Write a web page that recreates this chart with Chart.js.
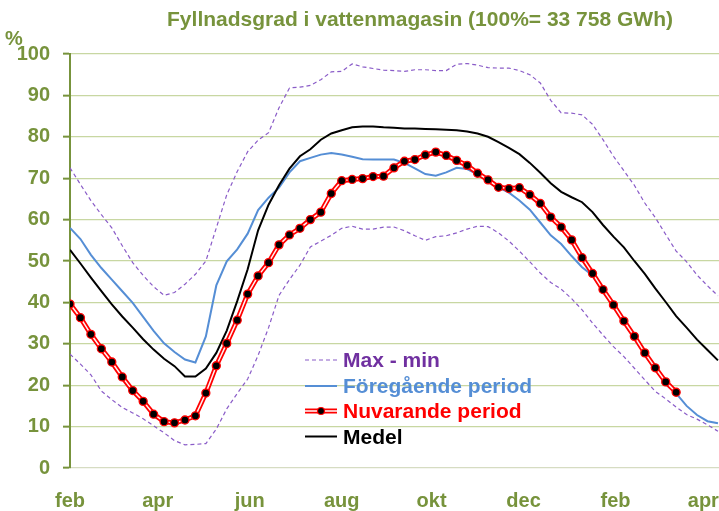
<!DOCTYPE html>
<html>
<head>
<meta charset="utf-8">
<script src="https://cdn.jsdelivr.net/npm/chart.js@4/dist/chart.umd.min.js"></script>
<style>
  html, body { margin: 0; padding: 0; background: #fff; }
  #wrap { width: 719px; height: 511px; }
</style>
</head>
<body>
<div id="wrap"><canvas id="myChart" width="719" height="511"></canvas></div>
<script>
// weekly fill level in %, week 0 = start of feb
const maxValues = [72.5, 68.5, 64.6, 61.2, 58.0, 53.7, 49.6, 46.5, 43.8, 41.7,
  42.4, 44.4, 46.8, 50.0, 58.0, 66.0, 71.6, 76.4, 79.2, 81.0,
  87.0, 91.8, 92.0, 92.4, 93.8, 95.7, 95.8, 97.6, 96.9, 96.5,
  96.1, 96.0, 95.8, 96.2, 96.2, 96.0, 96.0, 97.5, 97.7, 97.3,
  96.7, 96.6, 96.6, 96.0, 95.0, 93.0, 88.8, 85.8, 85.7, 85.3,
  83.0, 79.3, 75.3, 71.8, 68.3, 64.0, 60.5, 56.4, 52.4, 49.8,
  46.6, 44.0, 41.6];
const minValues = [27.5, 25.1, 22.5, 18.6, 16.5, 14.6, 13.3, 11.9, 10.2, 8.5,
  6.6, 5.6, 5.7, 5.9, 9.4, 14.3, 18.0, 21.5, 27.2, 33.9,
  41.7, 45.5, 49.0, 53.4, 54.8, 56.2, 57.9, 58.4, 57.7, 57.7,
  58.2, 58.2, 57.3, 56.1, 55.0, 55.9, 56.1, 56.8, 57.7, 58.4,
  58.3, 56.8, 54.8, 52.4, 49.8, 47.1, 44.8, 43.2, 40.9, 38.2,
  35.0, 32.1, 29.3, 26.9, 24.1, 21.3, 18.5, 16.7, 14.7, 12.9,
  11.8, 10.4, 8.9];
const foregaende = [58.0, 55.3, 51.5, 48.3, 45.5, 42.7, 39.9, 36.5, 33.1, 30.1,
  28.0, 26.2, 25.5, 31.8, 44.1, 49.9, 52.8, 56.6, 62.3, 65.3,
  67.7, 71.4, 74.1, 74.9, 75.7, 76.1, 75.7, 75.2, 74.6, 74.5,
  74.5, 74.5, 73.7, 72.4, 71.0, 70.6, 71.4, 72.5, 72.2, 70.9,
  69.4, 67.8, 66.5, 64.6, 62.4, 59.3, 56.2, 54.1, 51.2, 48.5,
  46.5, 42.7, 39.0, 35.1, 31.4, 27.4, 23.8, 20.3, 18.0, 15.0,
  12.8, 11.3, 10.8];
const nuvarande = [39.6, 36.3, 32.3, 28.8, 25.6, 22.0, 18.7, 16.1, 13.0, 11.2,
  10.9, 11.6, 12.6, 18.1, 24.7, 30.1, 35.7, 42.0, 46.4, 49.6,
  53.9, 56.3, 57.9, 60.0, 61.8, 66.3, 69.4, 69.7, 69.9, 70.4,
  70.5, 72.5, 74.1, 74.5, 75.6, 76.3, 75.5, 74.3, 73.1, 71.2,
  69.6, 67.8, 67.5, 67.7, 66.0, 63.9, 60.6, 58.2, 55.1, 50.8,
  47.0, 43.1, 39.4, 35.5, 31.8, 27.8, 24.2, 20.8, 18.3];
const medel = [52.7, 49.4, 46.0, 42.7, 39.5, 36.6, 33.9, 31.1, 28.6, 26.4,
  24.6, 22.1, 22.1, 24.0, 27.8, 33.2, 40.3, 48.0, 57.4, 63.6,
  68.3, 72.3, 75.3, 77.0, 79.3, 80.8, 81.6, 82.3, 82.5, 82.5,
  82.3, 82.2, 82.0, 82.0, 81.9, 81.8, 81.7, 81.6, 81.3, 80.8,
  80.0, 78.7, 77.3, 75.8, 73.7, 71.3, 68.8, 66.7, 65.4, 64.2,
  61.8, 58.7, 55.9, 53.3, 50.0, 46.9, 43.4, 40.1, 36.7, 33.9,
  31.0, 28.5, 26.0];

// month labels and where they sit on the week axis
const monthLabels = ['feb', 'apr', 'jun', 'aug', 'okt', 'dec', 'feb', 'apr'];
const monthPos = [0, 8.4, 17.2, 26.0, 34.6, 43.4, 52.2, 60.6];
const yTicks = [0, 10, 20, 30, 40, 50, 60, 70, 80, 90, 100];

const legendNames = ['Max - min', 'Föregående period', 'Nuvarande period', 'Medel'];
const titleText = 'Fyllnadsgrad i vattenmagasin (100%= 33 758 GWh)';

const olive = '#77933c';
const purple = '#7030a0';
const dashColor = '#8a5cc8';
const blue = '#558ed5';
const red = '#ff0000';
const fontFam = '"Liberation Sans", Arial, sans-serif';

// turn a list of weekly values into x/y points
const toPoints = (arr) => arr.map((v, i) => ({x: i, y: v}));

//draws the title, the % sign and the legend inside the plot
const overlay = {
  id: 'overlay',
  afterDraw(chart) {
    const ctx = chart.ctx;
    ctx.save();
    ctx.fillStyle = olive;
    ctx.textBaseline = 'alphabetic';
    ctx.font = 'bold 21px ' + fontFam;
    ctx.textAlign = 'center';
    ctx.fillText(titleText, 420, 26);
    ctx.textAlign = 'left';
    ctx.font = 'bold 20px ' + fontFam;
    ctx.fillText('%', 5, 45);

    const colors = [purple, blue, red, '#000'];
    const baselines = [367, 393, 418, 443.5];
    ctx.font = 'bold 21px ' + fontFam;
    legendNames.forEach((name, k) => {
      const y = baselines[k] - 7;
      ctx.save();
      if (k === 0) {
        ctx.strokeStyle = dashColor; ctx.lineWidth = 1.2; ctx.setLineDash([4, 3]);
        ctx.beginPath(); ctx.moveTo(305, y); ctx.lineTo(337, y); ctx.stroke();
      } else if (k === 1) {
        ctx.strokeStyle = blue; ctx.lineWidth = 2;
        ctx.beginPath(); ctx.moveTo(305, y); ctx.lineTo(337, y); ctx.stroke();
      } else if (k === 2) {
        ctx.strokeStyle = red; ctx.lineWidth = 5;
        ctx.beginPath(); ctx.moveTo(305, y); ctx.lineTo(337, y); ctx.stroke();
        ctx.strokeStyle = '#fff'; ctx.lineWidth = 1.5;
        ctx.beginPath(); ctx.moveTo(305, y); ctx.lineTo(337, y); ctx.stroke();
        ctx.fillStyle = '#000'; ctx.strokeStyle = red; ctx.lineWidth = 1.2;
        ctx.beginPath(); ctx.arc(321, y, 3.5, 0, Math.PI * 2); ctx.fill(); ctx.stroke();
      } else {
        ctx.strokeStyle = '#000'; ctx.lineWidth = 2;
        ctx.beginPath(); ctx.moveTo(305, y); ctx.lineTo(337, y); ctx.stroke();
      }
      ctx.restore();
      ctx.fillStyle = colors[k];
      ctx.fillText(name, 343, baselines[k]);
    });
    ctx.restore();
  }
};

const config = {
  type: 'line',
  data: {
    datasets: [
      { // markers on top
        data: toPoints(nuvarande), showLine: false, order: 0,
        pointRadius: 4, pointBackgroundColor: '#000', pointBorderColor: red, pointBorderWidth: 1.3
      },
      { // inner light stripe of the double red line
        data: toPoints(nuvarande), order: 1, borderColor: '#fff3f3', borderWidth: 1.5, pointRadius: 0
      },
      {
        label: legendNames[2], data: toPoints(nuvarande), order: 2, borderColor: red, borderWidth: 5, pointRadius: 0
      },
      {
        label: legendNames[3], data: toPoints(medel), order: 3, borderColor: '#000', borderWidth: 2, pointRadius: 0
      },
      {
        label: legendNames[1], data: toPoints(foregaende), order: 4, borderColor: blue, borderWidth: 2, pointRadius: 0
      },
      {
        label: legendNames[0], data: toPoints(maxValues), order: 5, borderColor: dashColor, borderWidth: 1.2, borderDash: [4, 3], pointRadius: 0
      },
      {
        data: toPoints(minValues), order: 6, borderColor: dashColor, borderWidth: 1.2, borderDash: [4, 3], pointRadius: 0
      }
    ]
  },
  options: {
    responsive: false,
    animation: false,
    devicePixelRatio: 1,
    events: [],
    layout: { padding: { top: 54, right: 0, bottom: 0, left: 0 }, autoPadding: false },
    plugins: { legend: { display: false }, tooltip: { enabled: false }, title: { display: false } },
    elements: { line: { tension: 0 } },
    scales: {
      x: {
        type: 'linear', min: 0, max: 62.1,
        afterBuildTicks: (axis) => { axis.ticks = monthPos.map(v => ({value: v})); },
        afterFit: (s) => { s.height = 43; s.paddingLeft = 0; s.paddingRight = 0; },
        ticks: {
          autoSkip: false, maxRotation: 0, padding: 13, color: olive,
          font: { family: fontFam, size: 20, weight: 'bold' },
          callback: (v, i) => monthLabels[i]
        },
        grid: { display: false },
        border: { display: false }
      },
      y: {
        min: 0, max: 100,
        afterBuildTicks: (axis) => { axis.ticks = yTicks.map(v => ({value: v})); },
        afterFit: (s) => { s.width = 70; s.paddingTop = 0; s.paddingBottom = 0; },
        ticks: { padding: 13, color: olive, font: { family: fontFam, size: 20, weight: 'bold' } },
        grid: {
          color: (c) => c.tick && c.tick.value === 0 ? '#d6dcc2' : '#c8d7a2',
          lineWidth: 1.3, tickColor: olive, tickLength: 7, tickWidth: 2
        },
        border: { color: olive, width: 2 }
      }
    }
  },
  plugins: [overlay]
};

let ctx = document.getElementById('myChart');
let myChart = new Chart(ctx, config);
</script>
</body>
</html>
